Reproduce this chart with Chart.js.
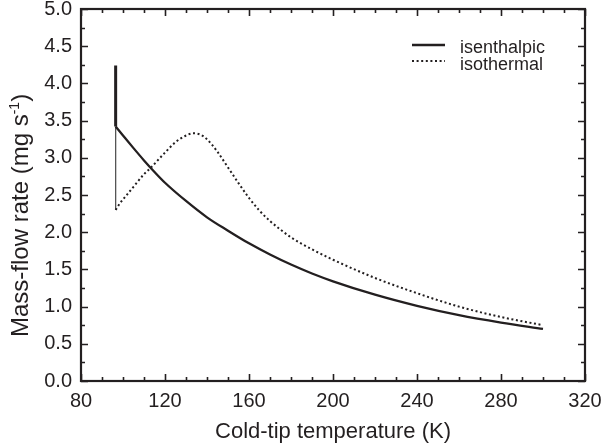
<!DOCTYPE html>
<html>
<head>
<meta charset="utf-8">
<script src="https://cdn.jsdelivr.net/npm/chart.js@4.4.1/dist/chart.umd.min.js"></script>
<style>
  html, body { margin: 0; padding: 0; background: #fff; }
</style>
</head>
<body>
<canvas id="flowChart" width="604" height="447"></canvas>
<script>
// data
const enthalpicTemps = [96.5, 100, 105, 110, 115, 120, 130, 140, 150, 160, 170, 180, 190, 200, 220, 240, 260, 280, 300];
const enthalpicFlow  = [3.42, 3.30, 3.13, 2.965, 2.81, 2.665, 2.42, 2.20, 2.02, 1.85, 1.70, 1.565, 1.445, 1.34, 1.16, 1.01, 0.885, 0.785, 0.70];

const thermalTemps = [96.5, 98.6, 100, 105, 110, 113, 120, 125, 130, 133.5, 137, 140, 145, 150, 155, 160, 165, 170, 175, 180, 190, 200, 220, 240, 260, 280, 300];
const thermalFlow  = [2.30, 2.39, 2.44, 2.61, 2.78, 2.86, 3.07, 3.21, 3.30, 3.33, 3.31, 3.25, 3.08, 2.87, 2.66, 2.46, 2.29, 2.15, 2.035, 1.93, 1.77, 1.63, 1.385, 1.18, 1.00, 0.86, 0.75];

// vertical jump at the cold end
const jumpTemps = [96.5, 96.5];
const jumpHigh  = [4.24, 3.42];
const jumpLow   = [3.42, 2.30];

const xTicks = [80, 120, 160, 200, 240, 280, 320];
const yTicks = [0.0, 0.5, 1.0, 1.5, 2.0, 2.5, 3.0, 3.5, 4.0, 4.5, 5.0];

const seriesNames = ['isenthalpic', 'isothermal'];

const ink = '#231f20';
const font = 'Liberation Sans, Arial, Helvetica, sans-serif';

function toPoints(xs, ys) {
    return xs.map((t, i) => ({ x: t, y: ys[i] }));
}

// ticks on all four sides, pointing inward, plus the box
const frameTicks = {
    id: 'frameTicks',
    afterDraw(chart) {
        const { ctx, chartArea: a, scales: { x, y } } = chart;
        ctx.save();
        ctx.strokeStyle = ink;
        ctx.lineWidth = 1.6;
        ctx.beginPath();
        for (let v = 80; v <= 320; v += 10) {
            const px = Math.round(x.getPixelForValue(v)) + 0.5;
            const len = v % 40 === 0 ? 7 : 4;
            ctx.moveTo(px, a.bottom); ctx.lineTo(px, a.bottom - len);
            ctx.moveTo(px, a.top); ctx.lineTo(px, a.top + len);
        }
        for (let i = 0; i <= 20; i++) {
            const py = Math.round(y.getPixelForValue(i * 0.25)) + 0.5;
            const len = i % 2 === 0 ? 7 : 4;
            ctx.moveTo(a.left, py); ctx.lineTo(a.left + len, py);
            ctx.moveTo(a.right, py); ctx.lineTo(a.right - len, py);
        }
        ctx.stroke();
        ctx.lineWidth = 2.2;
        ctx.strokeRect(a.left, a.top, a.right - a.left, a.bottom - a.top);
        ctx.restore();
    }
};

// y title with a real superscript
const yTitle = {
    id: 'yTitle',
    afterDraw(chart) {
        const { ctx } = chart;
        ctx.save();
        ctx.fillStyle = ink;
        ctx.translate(28, 337);
        ctx.rotate(-Math.PI / 2);
        ctx.textBaseline = 'alphabetic';
        ctx.textAlign = 'left';
        ctx.font = '24px ' + font;
        const main = 'Mass-flow rate (mg s';
        ctx.fillText(main, 0, 0);
        let w = ctx.measureText(main).width;
        ctx.font = '14px ' + font;
        ctx.fillText('-1', w, -9);
        w += ctx.measureText('-1').width;
        ctx.font = '24px ' + font;
        ctx.fillText(')', w, 0);
        ctx.restore();
    }
};

// legend inside the plot, top right
const innerLegend = {
    id: 'innerLegend',
    afterDraw(chart) {
        const { ctx } = chart;
        const lineRows = [45, 61];
        const textRows = [53, 70];
        ctx.save();
        ctx.font = '18px ' + font;
        ctx.fillStyle = ink;
        ctx.textBaseline = 'alphabetic';
        seriesNames.forEach((name, i) => {
            const ds = chart.data.datasets[i];
            ctx.strokeStyle = ds.borderColor;
            ctx.lineWidth = ds.borderWidth;
            ctx.setLineDash(ds.borderDash || []);
            ctx.beginPath();
            ctx.moveTo(412, lineRows[i]); ctx.lineTo(445, lineRows[i]);
            ctx.stroke();
            ctx.setLineDash([]);
            ctx.fillText(name, 460, textRows[i]);
        });
        ctx.restore();
    }
};

new Chart(document.getElementById('flowChart'), {
    type: 'scatter',
    data: {
        datasets: [{
            label: seriesNames[0],
            data: toPoints(enthalpicTemps, enthalpicFlow),
            showLine: true,
            borderColor: ink,
            borderWidth: 2.3,
            pointRadius: 0,
            cubicInterpolationMode: 'monotone'
        }, {
            label: seriesNames[1],
            data: toPoints(thermalTemps, thermalFlow),
            showLine: true,
            borderColor: ink,
            borderWidth: 2,
            borderDash: [2, 2.6],
            pointRadius: 0,
            cubicInterpolationMode: 'monotone'
        }, {
            label: 'jump-high',
            data: toPoints(jumpTemps, jumpHigh),
            showLine: true,
            borderColor: ink,
            borderWidth: 3,
            pointRadius: 0
        }, {
            label: 'jump-low',
            data: toPoints(jumpTemps, jumpLow),
            showLine: true,
            borderColor: '#555',
            borderWidth: 1.3,
            pointRadius: 0
        }]
    },
    options: {
        responsive: false,
        animation: false,
        layout: { padding: { top: 9, right: 19, left: 0, bottom: 0 } },
        plugins: {
            legend: { display: false },
            tooltip: { enabled: false }
        },
        scales: {
            x: {
                type: 'linear',
                min: 80,
                max: 320,
                afterFit: s => {
                    s.height = 66;
                    s.paddingLeft = 0;
                    s.paddingRight = 0;
                },
                afterBuildTicks: s => { s.ticks = xTicks.map(v => ({ value: v })); },
                grid: { display: false, drawTicks: false },
                border: { display: false },
                ticks: { color: ink, font: { size: 20, family: font }, padding: 8 },
                title: {
                    display: true,
                    text: 'Cold-tip temperature (K)',
                    color: ink,
                    font: { size: 22, family: font },
                    padding: { top: 0, bottom: 2 }
                }
            },
            y: {
                min: 0,
                max: 5,
                afterFit: s => {
                    s.width = 81;
                    s.paddingTop = 0;
                    s.paddingBottom = 0;
                },
                afterBuildTicks: s => { s.ticks = yTicks.map(v => ({ value: v })); },
                grid: { display: false, drawTicks: false },
                border: { display: false },
                ticks: {
                    color: ink,
                    font: { size: 20, family: font },
                    padding: 9,
                    callback: v => v.toFixed(1)
                }
            }
        }
    },
    plugins: [frameTicks, yTitle, innerLegend]
});
</script>
</body>
</html>
